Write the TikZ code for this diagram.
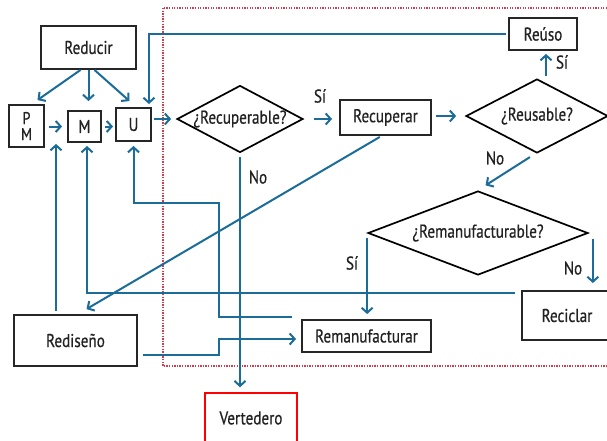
\documentclass[tikz,border=0pt]{standalone}
\usepackage{fontspec}
\setmainfont{PT Sans}[FakeStretch=0.82,FakeBold=0.6]
\usetikzlibrary{arrows.meta,shapes.geometric,calc}
\definecolor{flowblue}{HTML}{1B6C98}
\definecolor{dotred}{HTML}{D23C4C}
\definecolor{txt}{HTML}{222222}
\begin{document}
\begin{tikzpicture}[x=1pt,y=-1pt,
  font=\fontsize{18.5}{20}\selectfont, text=txt,
  box/.style={draw=black!85, line width=1.9pt, inner sep=0pt, align=center},
  dia/.style={diamond, draw=black, line width=1.7pt, inner sep=0pt},
  arr/.style={draw=flowblue, line width=2pt, -{Straight Barb[length=5pt,width=11pt]}},
  lab/.style={inner sep=0pt, text=txt}]
\useasboundingbox (0,0) rectangle (607,440);
\clip (0,0) rectangle (607,440);
\fill[white] (0,0) rectangle (607,440);
% dotted region
\draw[dotred, line width=1.7pt, dash pattern=on 1.3pt off 1.3pt] (163,8) rectangle (625,366);
% nodes
\node[box, minimum width=95pt, minimum height=43pt] (red) at (88.5,47.5) {Reducir};
\node[box, minimum width=35pt, minimum height=42pt, font=\fontsize{17}{16}\selectfont] (pm) at (26.5,126) {P\\M};
\node[box, minimum width=33pt, minimum height=31pt] (m) at (84.5,126.5) {M};
\node[box, minimum width=35pt, minimum height=33pt] (u) at (133.5,124.5) {U};
\node[dia, minimum width=126pt, minimum height=67pt, aspect=1.9] (rd) at (240,119) {¿Recuperable?};
\node[box, minimum width=91pt, minimum height=35pt] (rec) at (385.5,117.5) {Recuperar};
\node[dia, minimum width=142pt, minimum height=74pt, aspect=1.9] (rus) at (537,116) {¿Reusable?};
\node[box, minimum width=68pt, minimum height=32pt] (reuso) at (543,34) {Reúso};
\node[dia, minimum width=220pt, minimum height=84pt, aspect=2.6] (remd) at (478,233) {¿Remanufacturable?};
\node[box, minimum width=129pt, minimum height=32pt] (reman) at (366.5,336) {Remanufacturar};
\node[box, minimum width=90pt, minimum height=49pt] (recic) at (567,315.5) {Reciclar};
\node[box, minimum width=123pt, minimum height=51pt] (redis) at (75.5,340.5) {Rediseño};
\node[box, draw=red, line width=1.5pt, minimum width=92pt, minimum height=50pt] (vert) at (251,418) {Vertedero};
% helper coordinates
\coordinate (jx) at (219,0);
\coordinate (ju) at (219,203);
% connectors
\draw[arr] ([xshift=-8pt]red.south) -- ([xshift=11pt,yshift=4pt]pm.north);
\draw[arr] (red.south) -- ([yshift=9pt]red.south |- m.north);
\draw[arr] ([xshift=6pt]red.south) -- ([xshift=-4pt,yshift=6pt]u.north);
\draw[arr, shorten <=4pt, shorten >=5pt] (pm.east |- m.west) -- (m.west);
\draw[arr, shorten <=3pt, shorten >=2pt] (m.east) -- (m.east -| u.west);
\draw[arr, shorten <=2pt, shorten >=5pt] (u.east |- rd.west) -- (rd.west);
\draw[arr, shorten <=10pt, shorten >=7pt] (rd.east) -- (rd.east -| rec.west);
\node[lab] (l1) at (320,96) {Sí};
\draw[arr, shorten <=4pt, shorten >=9pt] (rec.east |- rus.west) -- (rus.west);
\draw[arr, shorten >=3pt] ([xshift=3pt,yshift=2pt]reuso.south |- rus.north) -- ([xshift=3pt]reuso.south);
\node[lab] (l2) at (562,62) {Sí};
\draw[arr, shorten <=2pt] (reuso.west) -| ([xshift=-3pt,yshift=3pt]u.north east);
\draw[arr, shorten <=4pt, shorten >=5pt] (rd.south) -- (rd.south |- vert.north);
\node[lab] (l3) at (258,177) {No};
\draw[arr, shorten <=6pt, shorten >=9pt] ([xshift=-2pt]rus.south) -- (remd.north);
\node[lab] (l4) at (495,158) {No};
\draw[arr, shorten >=5pt] ([xshift=0pt,yshift=-5pt]remd.west) -- (remd.west |- reman.north);
\node[lab] (l5) at (352,263) {Sí};
\draw[arr, shorten >=7pt] ([xshift=4pt,yshift=-6pt]remd.east) -- ([xshift=4pt]remd.east |- recic.north);
\node[lab] (l6) at (573,268) {No};
\draw[arr, shorten <=6pt] ([yshift=-3pt]recic.north west) -| ([xshift=2.5pt,yshift=-3pt]m.south);
\draw[arr, shorten <=2pt] ([xshift=-4pt]rec.south) -- ([xshift=11pt,yshift=5pt]redis.north);
\draw[arr, shorten <=3pt, shorten >=1pt] ([xshift=-19.5pt]redis.north) -- ([xshift=-19.5pt]redis.north |- m.south);
\draw[arr, shorten <=5pt, shorten >=5pt] ([yshift=-14.5pt]redis.east) -- ([yshift=-14.5pt]redis.east -| jx) |- ([yshift=-3pt]reman.west);
\draw[arr] ([xshift=-9pt,yshift=2pt]reman.north west) -| (ju) -| ([yshift=-4pt]u.south);
\end{tikzpicture}
\end{document}
